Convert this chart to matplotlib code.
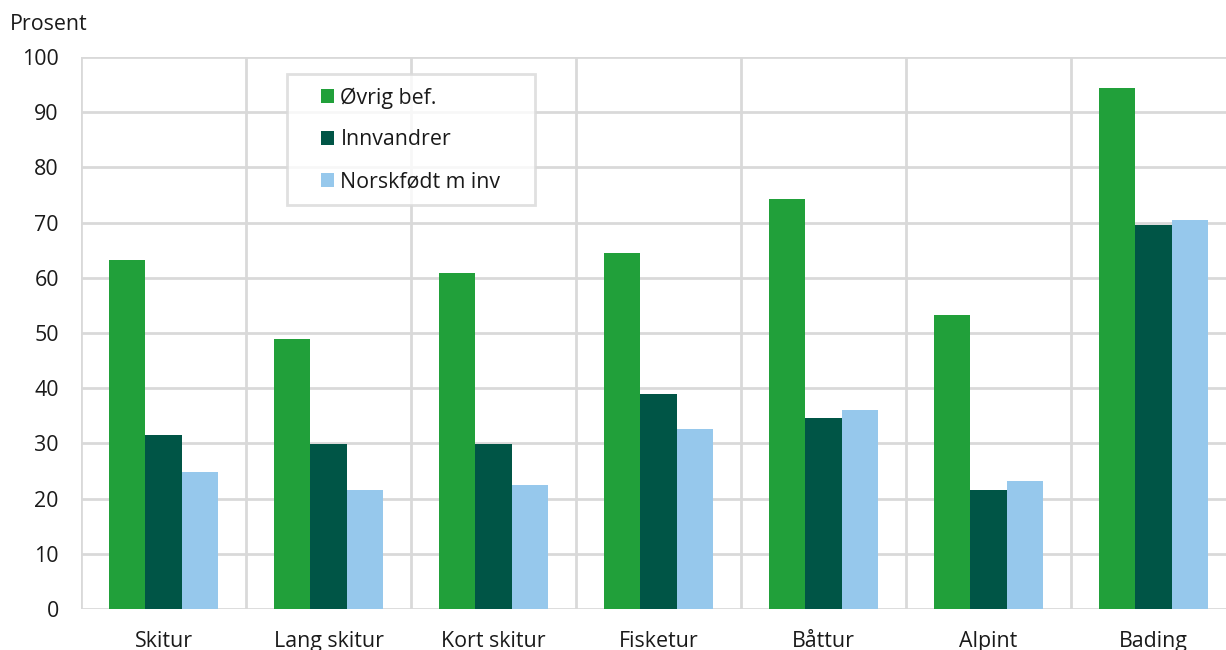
import matplotlib
matplotlib.use("Agg")
import matplotlib.pyplot as plt
from matplotlib.patches import Patch, Rectangle
from matplotlib.legend_handler import HandlerPatch
import numpy as np

categories = ["Skitur", "Lang skitur", "Kort skitur", "Fisketur", "Båttur", "Alpint", "Bading"]
series_names = ["Øvrig bef.", "Innvandrer", "Norskfødt m inv"]
ovrig = [63.2, 48.9, 60.9, 64.5, 74.3, 53.3, 94.4]
innvandrer = [31.5, 29.9, 29.9, 38.9, 34.6, 21.6, 69.6]
norskfodt = [24.8, 21.6, 22.5, 32.6, 36.1, 23.2, 70.5]
yticks = [0, 10, 20, 30, 40, 50, 60, 70, 80, 90, 100]

colors = ["#21a03a", "#005546", "#96c8ec"]
grid_col = "#d9d9d9"
text_col = "#1a1a1a"

plt.rcParams["font.family"] = ["Open Sans", "DejaVu Sans"]

W, H = 1226, 650
fig = plt.figure(figsize=(W / 100, H / 100), dpi=100)
left, right, top, bottom = 81, 1226, 57, 609
ax = fig.add_axes([left / W, 1 - bottom / H, (right - left) / W, (bottom - top) / H])

x = np.arange(len(categories))
bw = 0.222
for i, (vals, name) in enumerate(zip([ovrig, innvandrer, norskfodt], series_names)):
    ax.bar(x + (i - 1) * bw, vals, width=bw, color=colors[i], label=name, zorder=3)

ax.set_xlim(-0.5, -0.5 + (right - left) / 165)
ax.set_ylim(0, 100)
ax.set_yticks(yticks)
ax.set_yticklabels([str(v) for v in yticks])
ax.set_xticks(x)
ax.set_xticklabels(categories)
ax.tick_params(axis="both", length=0, labelsize=15.4, colors=text_col)
ax.tick_params(axis="y", pad=16)
ax.tick_params(axis="x", pad=16)

# gridlines: horizontal at ticks, vertical at category boundaries
for v in yticks:
    ax.axhline(v, color=grid_col, lw=2, zorder=1)
for b in np.arange(-0.5, len(categories) + 0.5, 1.0):
    ax.axvline(b, color=grid_col, lw=2, zorder=1)
for s in ax.spines.values():
    s.set_visible(False)

fig.text(10 / W, 1 - 24 / H, "Prosent", fontsize=15.4, color=text_col, va="center", ha="left")


class SquareRight(HandlerPatch):
    def create_artists(self, legend, orig_handle, xdescent, ydescent, width, height, fontsize, trans):
        side = height
        r = Rectangle((width - side - xdescent, -ydescent), side, side,
                      facecolor=orig_handle.get_facecolor(), edgecolor="none", transform=trans)
        return [r]


handles = [Patch(facecolor=c) for c in colors]
lx0, ly0, lx1, ly1 = 287, 74, 535, 206
leg = fig.legend(handles, series_names, loc="upper left", mode="expand",
                 bbox_to_anchor=(lx0 / W, 1 - ly1 / H, (lx1 - lx0) / W, (ly1 - ly0) / H),
                 borderaxespad=0,
                 fontsize=15.4, frameon=True, fancybox=False,
                 handler_map={Patch: SquareRight()},
                 handlelength=1.6, handleheight=0.61, handletextpad=0.28,
                 labelspacing=0.97, borderpad=0.62)
leg.get_frame().set_edgecolor(grid_col)
leg.get_frame().set_linewidth(2)
for t in leg.get_texts():
    t.set_color(text_col)

fig.savefig("out.png", dpi=100)
